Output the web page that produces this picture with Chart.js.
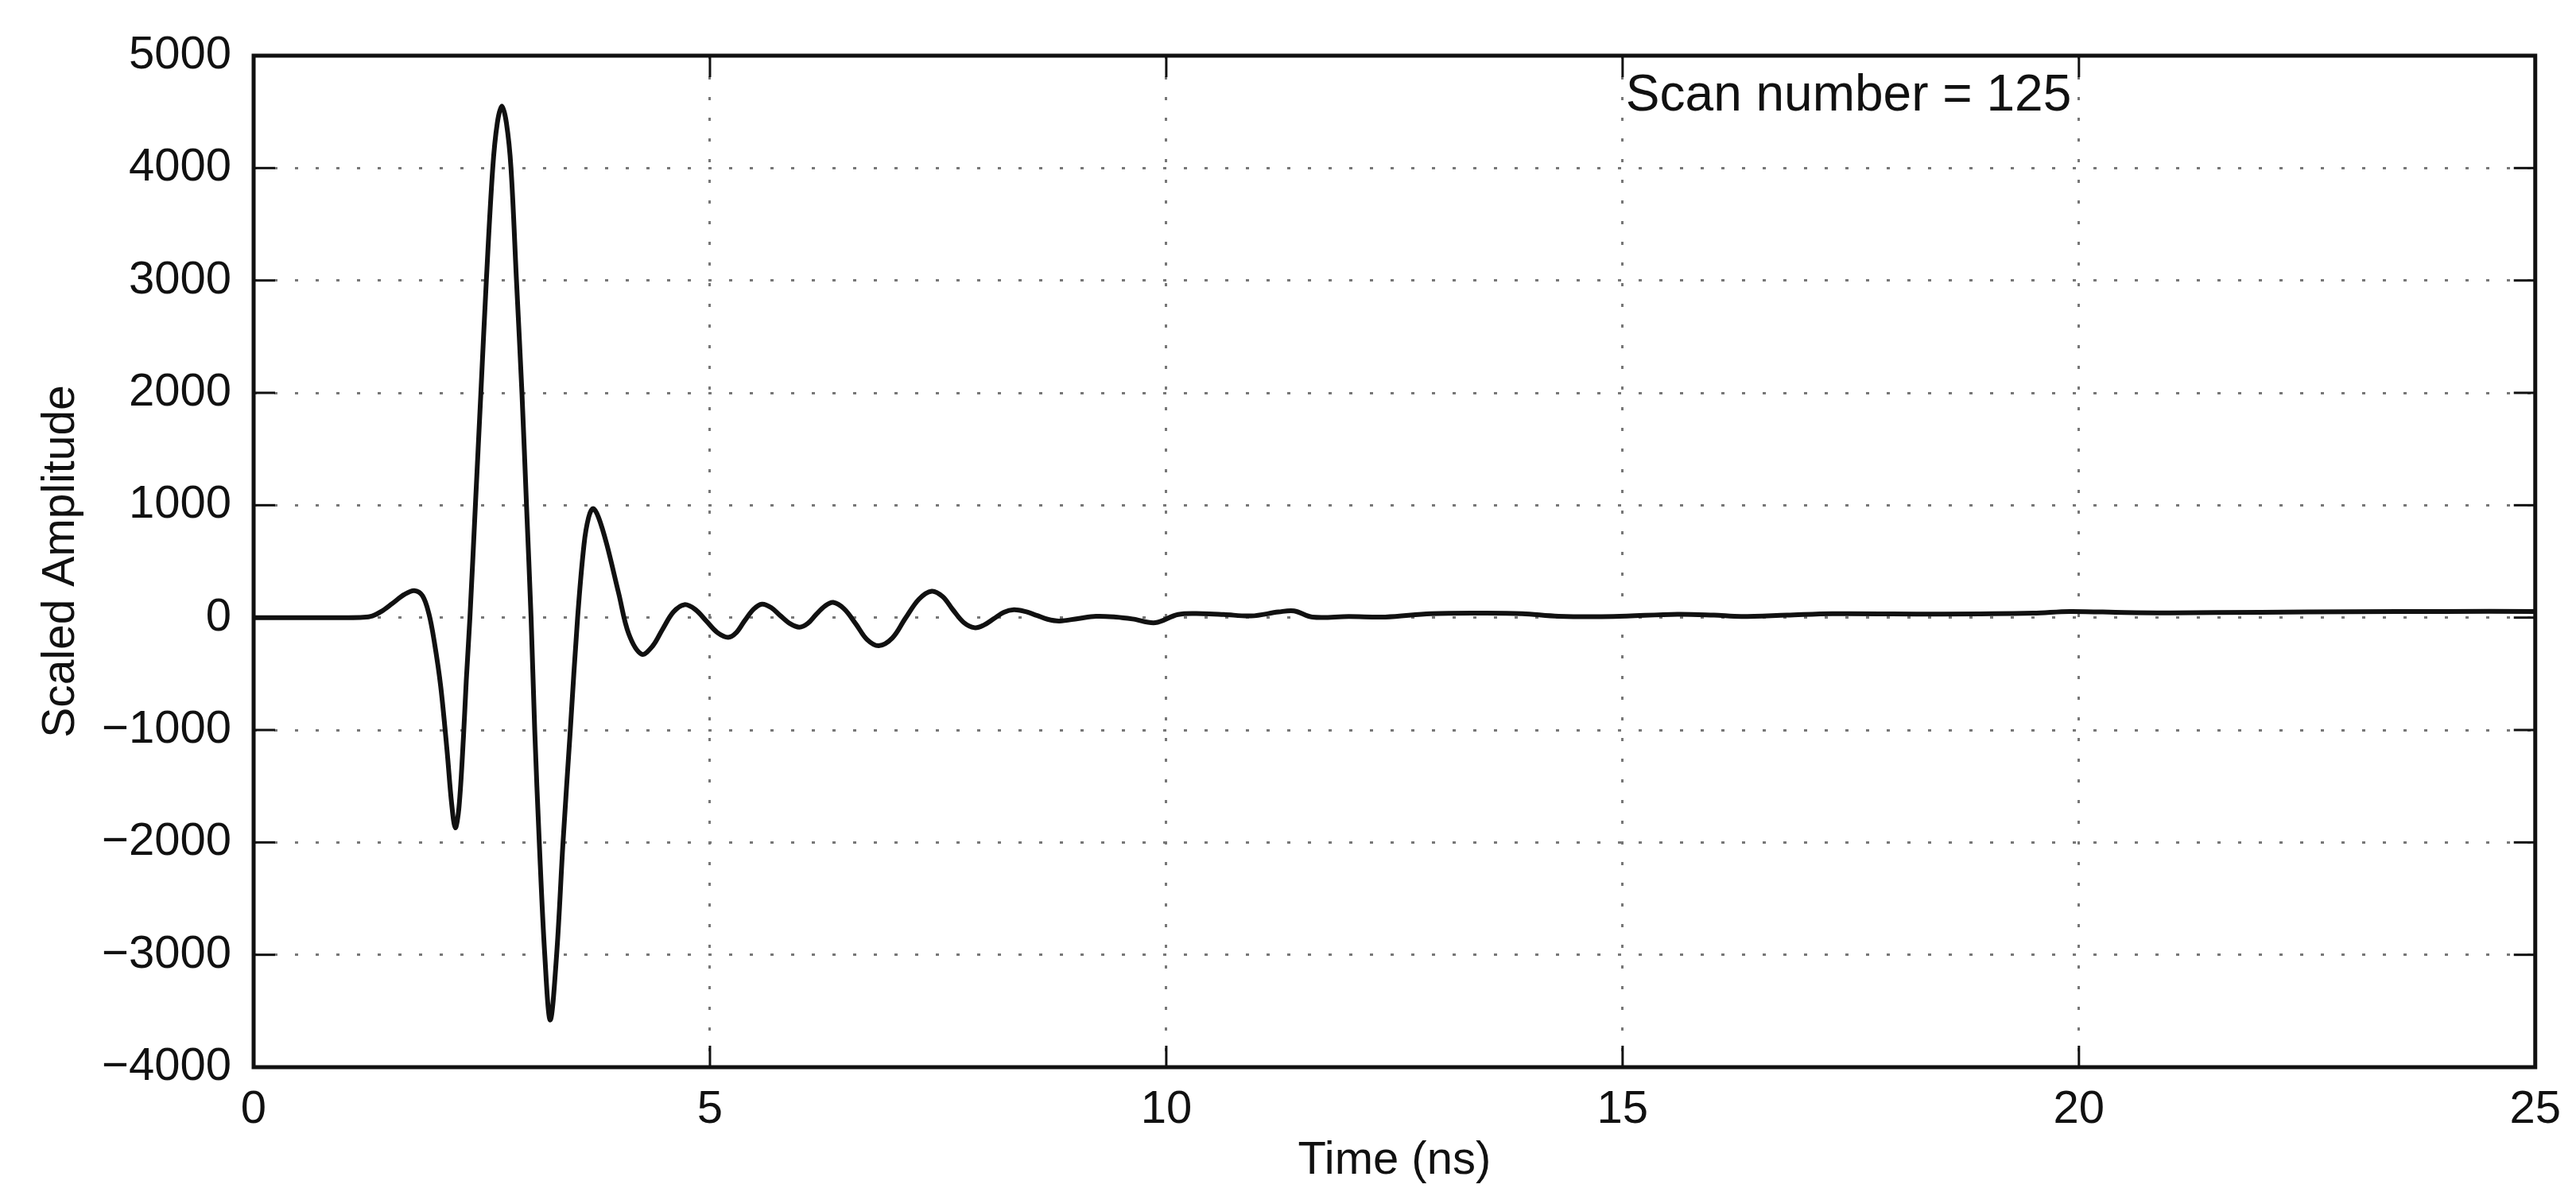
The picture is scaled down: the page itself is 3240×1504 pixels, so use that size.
<!DOCTYPE html>
<html>
<head>
<meta charset="utf-8">
<script src="https://cdn.jsdelivr.net/npm/chart.js@4"></script>
<style>
  body { margin: 0; background: #fff; }
  #wrap { width: 3240px; height: 1504px; }
</style>
</head>
<body>
<div id="wrap"><canvas id="scan"></canvas></div>
<script>
// time axis (ns) and scaled amplitude
const timeNs = [
  0, 0.5, 1.0, 1.2, 1.3, 1.4, 1.52, 1.65, 1.76, 1.85, 1.92, 1.98, 2.05, 2.12, 2.17, 2.21, 2.25, 2.30, 2.33,
  2.37, 2.43, 2.49, 2.55, 2.62, 2.67, 2.72, 2.77, 2.82, 2.88, 2.94, 2.99, 3.04, 3.08, 3.13, 3.19, 3.25,
  3.32, 3.39, 3.47, 3.55, 3.62, 3.67, 3.72, 3.78, 3.87, 4.00, 4.11, 4.25, 4.37, 4.48, 4.60, 4.72, 4.84,
  4.96, 5.08, 5.20, 5.29, 5.38, 5.48, 5.57, 5.67, 5.77, 5.88, 5.98, 6.07, 6.16, 6.26, 6.35, 6.47, 6.60,
  6.72, 6.85, 7.00, 7.14, 7.29, 7.43, 7.55, 7.66, 7.78, 7.90, 8.00, 8.11, 8.22, 8.33, 8.45, 8.58, 8.70,
  8.83, 9.03, 9.23, 9.45, 9.63, 9.88, 10.13, 10.40, 10.63, 10.93, 11.23, 11.40, 11.60, 12.0, 12.4, 12.9,
  13.5, 13.9, 14.3, 14.9, 15.6, 16.0, 16.3, 16.8, 17.3, 18.5, 19.5, 19.9, 20.5, 21.0, 22.0, 23.0, 24.0, 25.0
];
const amplitude = [
  0, 0, 0, 3, 15, 55, 126, 205, 240, 195, 36, -216, -613, -1189, -1658, -1870, -1690, -1050, -560,
  0, 1000, 2000, 3000, 4000, 4400, 4550, 4400, 4000, 3000, 2000, 1000, 0, -1000, -2000, -3000, -3580,
  -3000, -2000, -1000, 0, 650, 890, 970, 890, 650, 216, -144, -325, -255, -105, 50, 115, 72,
  -30, -132, -175, -132, -28, 76, 120, 90, 18, -55, -85, -53, 25, 103, 135, 78, -58,
  -194, -250, -180, -8, 164, 235, 187, 72, -43, -90, -67, -10, 47, 70, 55, 20, -15,
  -30, -9, 12, 5, -12, -45, 28, 35, 28, 15, 50, 60, 5, 10, 5, 35,
  40, 35, 12, 10, 30, 22, 10, 22, 35, 32, 40, 55, 45, 42, 48, 52, 55, 55
];

const xTicks = [0, 5, 10, 15, 20, 25];
const yTicks = [-4000, -3000, -2000, -1000, 0, 1000, 2000, 3000, 4000, 5000];
const scanLabel = 'Scan number = 125';

const fontFamily = '"Liberation Sans", Arial, Helvetica, sans-serif';
const ink = '#111';
const tickLen = 27;

// box round the plot, inward ticks on all four sides, and the scan label
const frameAndTicks = {
  id: 'frameAndTicks',
  afterDatasetsDraw(chart) {
    const { ctx, chartArea: a, scales: { x, y } } = chart;
    const line = (x1, y1, x2, y2) => {
      ctx.beginPath();
      ctx.moveTo(x1, y1);
      ctx.lineTo(x2, y2);
      ctx.stroke();
    };
    ctx.save();
    ctx.strokeStyle = ink;
    ctx.lineWidth = 3;
    xTicks.forEach((v) => {
      const px = x.getPixelForValue(v);
      line(px, a.bottom, px, a.bottom - tickLen);
      line(px, a.top, px, a.top + tickLen);
    });
    yTicks.forEach((v) => {
      const py = y.getPixelForValue(v);
      line(a.left, py, a.left + tickLen, py);
      line(a.right, py, a.right - tickLen, py);
    });
    ctx.lineWidth = 5;
    ctx.strokeRect(a.left, a.top, a.right - a.left, a.bottom - a.top);

    ctx.font = '64px ' + fontFamily;
    ctx.fillStyle = ink;
    ctx.textAlign = 'left';
    ctx.textBaseline = 'middle';
    ctx.fillText(scanLabel, x.getPixelForValue(15) + 4, y.getPixelForValue(4640));
    ctx.restore();
  }
};

const points = timeNs.map((t, i) => ({ x: t, y: amplitude[i] }));

new Chart(document.getElementById('scan'), {
  type: 'line',
  data: {
    datasets: [{
      data: points,
      borderColor: ink,
      borderWidth: 6,
      pointRadius: 0,
      tension: 0.35,
      fill: false
    }]
  },
  options: {
    responsive: true,
    maintainAspectRatio: false,
    animation: false,
    layout: { padding: { top: 70, right: 45, left: 0, bottom: 0 } },
    plugins: { legend: { display: false }, tooltip: { enabled: false } },
    scales: {
      x: {
        type: 'linear',
        min: 0,
        max: 25,
        afterBuildTicks: (s) => { s.ticks = xTicks.map((v) => ({ value: v })); },
        afterFit: (s) => { s.height = 162; },
        grid: { color: '#777', lineWidth: 3, drawTicks: false },
        border: { display: false, dash: [4, 22] },
        ticks: { padding: 19, color: ink, font: { size: 58, family: fontFamily } },
        title: {
          display: true,
          text: 'Time (ns)',
          color: ink,
          font: { size: 58, family: fontFamily },
          padding: { top: 0, bottom: 9 }
        }
      },
      y: {
        type: 'linear',
        min: -4000,
        max: 5000,
        afterBuildTicks: (s) => { s.ticks = yTicks.map((v) => ({ value: v })); },
        afterFit: (s) => { s.width = 319; },
        grid: { color: '#777', lineWidth: 3, drawTicks: false },
        border: { display: false, dash: [4, 22] },
        ticks: {
          padding: 28,
          color: ink,
          font: { size: 58, family: fontFamily },
          callback: (v) => String(v).replace('-', '\u2212')
        },
        title: {
          display: true,
          text: 'Scaled Amplitude',
          color: ink,
          font: { size: 57, family: fontFamily },
          padding: { top: 43, bottom: 0 }
        }
      }
    }
  },
  plugins: [frameAndTicks]
});
</script>
</body>
</html>
